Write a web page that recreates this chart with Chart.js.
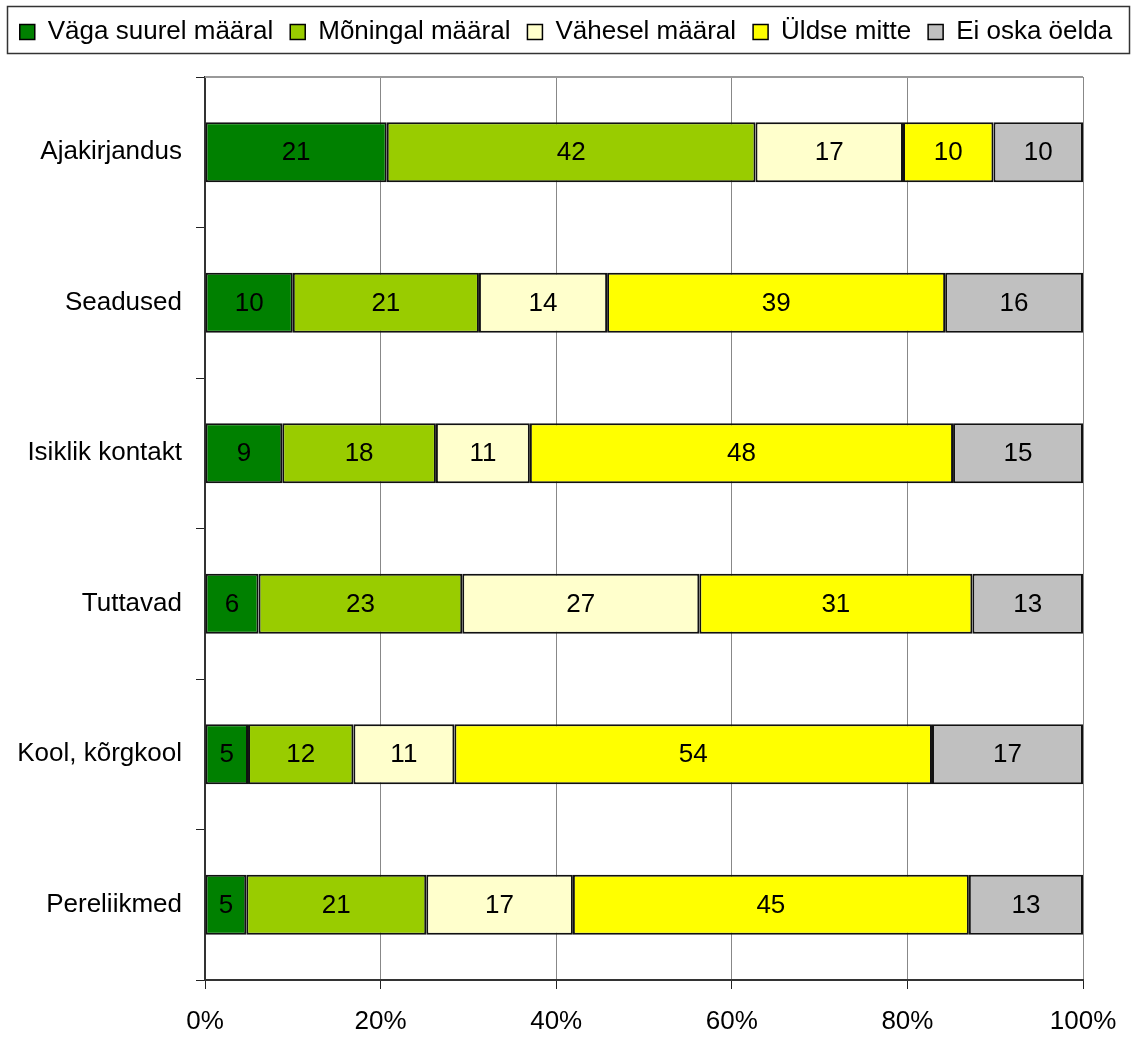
<!DOCTYPE html>
<html>
<head>
<meta charset="utf-8">
<script src="https://cdn.jsdelivr.net/npm/chart.js@4/dist/chart.umd.min.js"></script>
<style>
  html, body { margin: 0; padding: 0; background: #fff; }
  #wrap { width: 1132px; height: 1038px; }
</style>
</head>
<body>
<div id="wrap"><canvas id="chart"></canvas></div>
<script>
// kategooriad ja vastuste jaotus
const categories = ['Ajakirjandus', 'Seadused', 'Isiklik kontakt', 'Tuttavad', 'Kool, kõrgkool', 'Pereliikmed'];
const seriesNames = ['Väga suurel määral', 'Mõningal määral', 'Vähesel määral', 'Üldse mitte', 'Ei oska öelda'];

// tulpade pikkused (%) – loetud jooniselt
const vagaSuurel = [20.7, 10.0, 8.8, 6.1, 4.9, 4.7];
const moningal = [42.0, 21.2, 17.5, 23.2, 12.0, 20.5];
const vahesel = [16.8, 14.6, 10.7, 27.0, 11.5, 16.7];
const uldseMitte = [10.3, 38.5, 48.2, 31.1, 54.4, 45.1];
const eiOska = [10.2, 15.7, 14.8, 12.6, 17.2, 13.0];

// tulpade sees näidatud ümardatud väärtused
const vagaSuurelLbl = [21, 10, 9, 6, 5, 5];
const moningalLbl = [42, 21, 18, 23, 12, 21];
const vaheselLbl = [17, 14, 11, 27, 11, 17];
const uldseMitteLbl = [10, 39, 48, 31, 54, 45];
const eiOskaLbl = [10, 16, 15, 13, 17, 13];

const xTicks = [0, 20, 40, 60, 80, 100];
const colors = ['#008000', '#99CC00', '#FFFFCC', '#FFFF00', '#C0C0C0'];

const FONT = "'Liberation Sans', Arial, sans-serif";
const FS = 26;
const allSeries = [vagaSuurel, moningal, vahesel, uldseMitte, eiOska];
const allLabels = [vagaSuurelLbl, moningalLbl, vaheselLbl, uldseMitteLbl, eiOskaLbl];

const datasets = allSeries.map((arr, k) => ({
    label: seriesNames[k],
    data: arr,
    shown: allLabels[k],
    backgroundColor: colors[k],
    borderColor: '#111111',
    borderWidth: 2,
    borderSkipped: false,
    categoryPercentage: 1,
    barPercentage: 0.4
}));

// väärtused tulpade sisse
const valueLabels = {
    id: 'valueLabels',
    afterDatasetsDraw(chart) {
        const ctx = chart.ctx;
        ctx.save();
        ctx.font = FS + 'px ' + FONT;
        ctx.fillStyle = '#000';
        ctx.textAlign = 'center';
        ctx.textBaseline = 'middle';
        chart.data.datasets.forEach((ds, k) => {
            chart.getDatasetMeta(k).data.forEach((bar, i) => {
                const cx = (bar.x + bar.base) / 2;
                ctx.fillText(String(ds.shown[i]), cx, bar.y + 1);
            });
        });
        ctx.restore();
    }
};

// joonise ülemine piir (hall)
const plotTop = {
    id: 'plotTop',
    beforeDatasetsDraw(chart) {
        const a = chart.chartArea;
        const ctx = chart.ctx;
        ctx.save();
        ctx.strokeStyle = '#999';
        ctx.lineWidth = 2;
        ctx.beginPath();
        ctx.moveTo(a.left, a.top);
        ctx.lineTo(a.right, a.top);
        ctx.stroke();
        ctx.restore();
    }
};

// legendi kõrgus ja raam
const legendBox = {
    id: 'legendBox',
    beforeInit(chart) {
        const origFit = chart.legend.fit;
        chart.legend.fit = function () {
            origFit.call(this);
            this.height = 75;
        };
    },
    afterDraw(chart) {
        const ctx = chart.ctx;
        ctx.save();
        ctx.strokeStyle = '#333';
        ctx.lineWidth = 1.5;
        ctx.strokeRect(7.5, 6.5, 1122, 47);
        ctx.restore();
    }
};

new Chart(document.getElementById('chart'), {
    type: 'bar',
    data: { labels: categories, datasets: datasets },
    plugins: [valueLabels, plotTop, legendBox],
    options: {
        indexAxis: 'y',
        responsive: true,
        maintainAspectRatio: false,
        animation: false,
        layout: { padding: { top: 2, right: 0, left: 0, bottom: 0 } },
        plugins: {
            legend: {
                position: 'top',
                labels: {
                    font: { family: FONT, size: FS },
                    color: '#000',
                    boxWidth: 15,
                    boxHeight: 15,
                    padding: 17,
                    generateLabels(chart) {
                        return chart.data.datasets.map((ds, k) => ({
                            text: ds.label,
                            fillStyle: ds.backgroundColor,
                            strokeStyle: '#000',
                            lineWidth: 1.5,
                            datasetIndex: k
                        }));
                    }
                }
            },
            tooltip: { enabled: false }
        },
        scales: {
            x: {
                stacked: true,
                min: 0,
                max: 100,
                afterBuildTicks(axis) { axis.ticks = xTicks.map(v => ({ value: v })); },
                afterFit(axis) { axis.height = 58; axis.paddingRight = 49; },
                ticks: {
                    callback: v => v + '%',
                    font: { family: FONT, size: FS },
                    color: '#000',
                    padding: 17,
                    maxRotation: 0
                },
                grid: { color: '#888', tickColor: '#222', tickLength: 9, lineWidth: 1 },
                border: { color: '#333', width: 2 }
            },
            y: {
                stacked: true,
                afterFit(axis) { axis.width = 205; },
                ticks: {
                    font: { family: FONT, size: FS },
                    color: '#000',
                    padding: 14
                },
                grid: { offset: true, drawOnChartArea: false, tickColor: '#222', tickLength: 9 },
                border: { color: '#333', width: 2 }
            }
        }
    }
});
</script>
</body>
</html>
